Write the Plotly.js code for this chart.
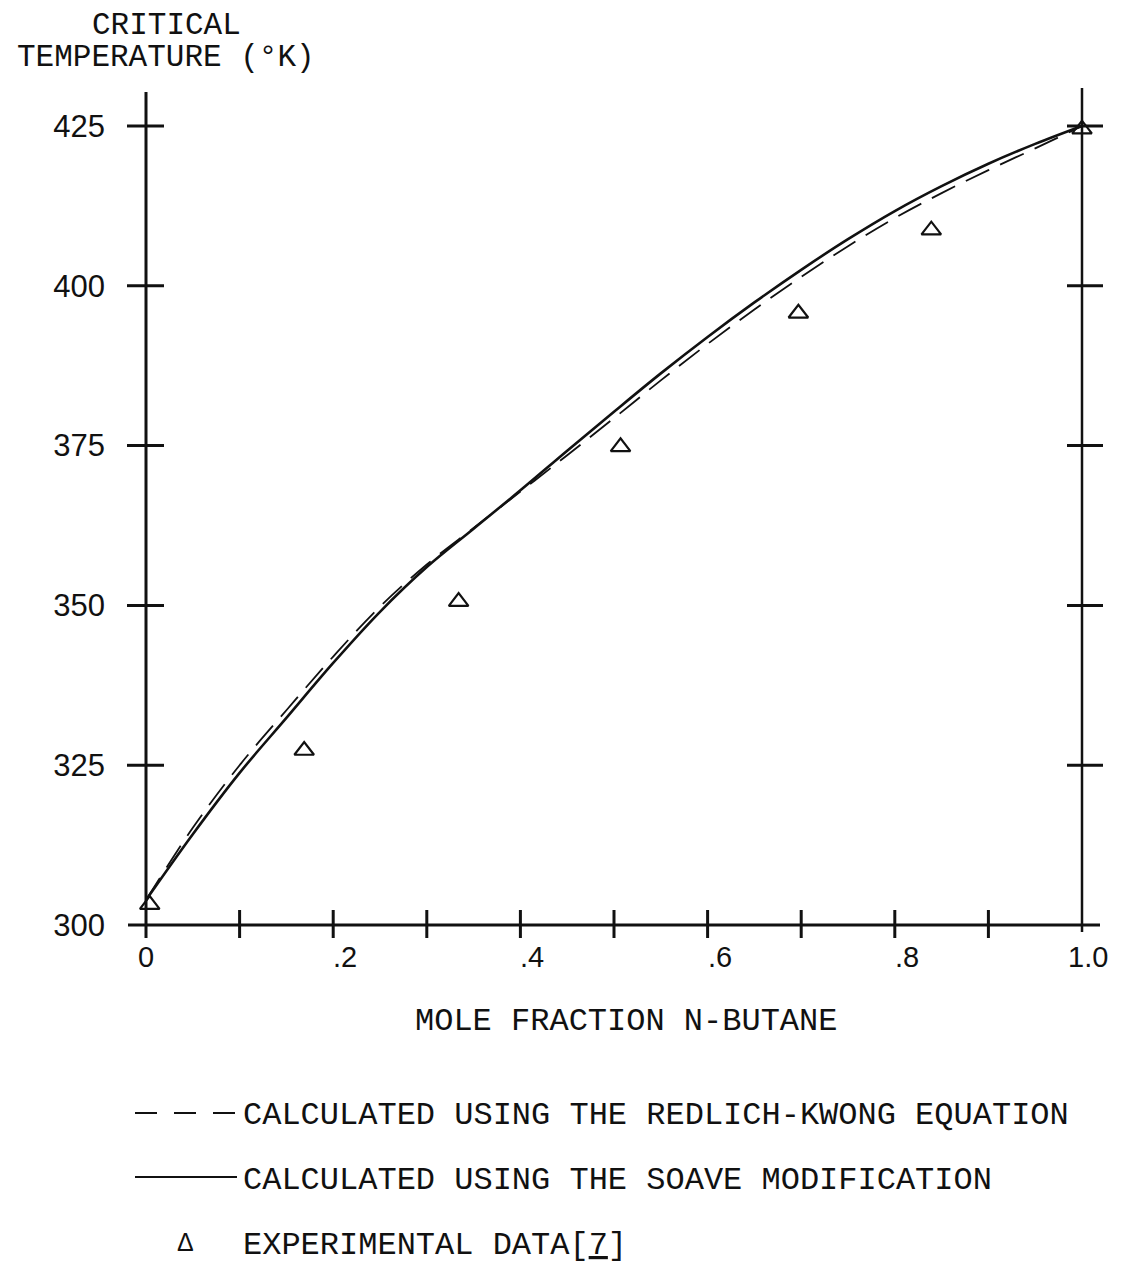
<!DOCTYPE html>
<html>
<head>
<meta charset="utf-8">
<script src="https://cdn.plot.ly/plotly-3.0.1.min.js"></script>
<style>
html,body{margin:0;padding:0;background:#fff;}
#chart{width:1128px;height:1264px;}
</style>
</head>
<body>
<div id="chart"></div>
<script>
// ---- data ----
const moleFraction = [0, 0.05, 0.1, 0.15, 0.2, 0.25, 0.3, 0.35, 0.4, 0.45, 0.5, 0.55, 0.6, 0.65, 0.7, 0.75, 0.8, 0.85, 0.9, 0.95, 1.0];
const soaveTc = [303.9, 314.2, 323.8, 332.4, 341.0, 349.0, 356.0, 362.0, 368.0, 374.2, 380.3, 386.3, 392.0, 397.4, 402.5, 407.3, 411.7, 415.6, 419.1, 422.2, 425.0];
const redlichKwongTc = [303.9, 315.2, 325.0, 333.6, 342.0, 349.8, 356.4, 362.1, 367.8, 373.5, 379.3, 385.2, 390.9, 396.3, 401.4, 406.2, 410.6, 414.5, 418.1, 421.5, 425.0];
const expX = [0.004, 0.169, 0.334, 0.507, 0.697, 0.839, 1.0];
const expTc = [303.2, 327.3, 350.6, 374.8, 395.7, 408.7, 424.5];

const yTickVals = [300, 325, 350, 375, 400, 425];
const yTickText = ["300", "325", "350", "375", "400", "425"];
const xTickVals = [0, 0.2, 0.4, 0.6, 0.8, 1.0];
const xTickText = ["0", ".2", ".4", ".6", ".8", "1.0"];
const xMinorTicks = [0.1, 0.2, 0.3, 0.4, 0.5, 0.6, 0.7, 0.8, 0.9];

const yTitleLines = ["CRITICAL", "TEMPERATURE (°K)"];
const xTitle = "MOLE FRACTION N-BUTANE";
const legendTexts = [
  "CALCULATED USING THE REDLICH-KWONG EQUATION",
  "CALCULATED USING THE SOAVE MODIFICATION",
  "EXPERIMENTAL DATA[<u>7</u>]"
];

// ---- geometry ----
const W = 1128, H = 1264;
const L = 120, R = 18, T = 80, B = 324;
const PW = W - L - R, PH = H - T - B;
const X0PX = 146, X1PX = 1082;       // pixel of x=0 and x=1
const Y300PX = 925, PXPERUNIT = 6.392; // pixel of 300 and px per degree
const xFromPx = p => (p - X0PX) / (X1PX - X0PX);
const yFromPx = p => 300 + (Y300PX - p) / PXPERUNIT;
const pxX = p => (p - L) / PW;          // paper fraction
const pxY = p => (H - B - p) / PH;

const ink = '#111';
const mono = '"Liberation Mono", "DejaVu Sans Mono", monospace';
const hand = '"Liberation Sans", Arial, sans-serif';

const shapes = [];
const line = (x0, y0, x1, y1, w, extra) => Object.assign({type: 'line', xref: 'x', yref: 'y', x0, y0, x1, y1, line: {color: ink, width: w}, layer: 'above'}, extra || {});
// axis frame
shapes.push(line(xFromPx(128), 300, xFromPx(1100), 300, 3));
shapes.push(line(0, yFromPx(938), 0, yFromPx(92), 3));
shapes.push(line(1, yFromPx(932), 1, yFromPx(88), 2.5));
// crossing ticks on the y axes
yTickVals.filter(v => v > 300).forEach(v => {
  shapes.push(line(xFromPx(127), v, xFromPx(164), v, 3));
  shapes.push(line(xFromPx(1067), v, xFromPx(1103), v, 3));
});
// ticks on the x axis
xMinorTicks.forEach(v => {
  shapes.push(line(v, yFromPx(938), v, yFromPx(910), 3));
});
// legend samples (paper coords)
shapes.push({type: 'line', xref: 'paper', yref: 'paper', x0: pxX(135), x1: pxX(237), y0: pxY(1113), y1: pxY(1113), line: {color: ink, width: 2, dash: '22px,17px'}});
shapes.push({type: 'line', xref: 'paper', yref: 'paper', x0: pxX(135), x1: pxX(237), y0: pxY(1177), y1: pxY(1177), line: {color: ink, width: 2}});

const annotations = [];
// y title
annotations.push({xref: 'paper', yref: 'paper', x: pxX(166), y: pxY(25), text: yTitleLines[0], showarrow: false, xanchor: 'center', yanchor: 'middle', font: {family: mono, size: 31, color: ink}});
annotations.push({xref: 'paper', yref: 'paper', x: pxX(166), y: pxY(57), text: yTitleLines[1], showarrow: false, xanchor: 'center', yanchor: 'middle', font: {family: mono, size: 31, color: ink}});
// x title
annotations.push({xref: 'paper', yref: 'paper', x: pxX(626), y: pxY(1021), text: xTitle, showarrow: false, xanchor: 'center', yanchor: 'middle', font: {family: mono, size: 32, color: ink}});
// x tick labels
xTickVals.forEach((v, i) => {
  const lbl = xTickText[i];
  const shift = lbl === '0' ? 0 : (lbl.charAt(0) === '.' ? 12 : 6);
  annotations.push({xref: 'x', yref: 'paper', x: v, y: pxY(957), xshift: shift, text: lbl, showarrow: false, xanchor: 'center', yanchor: 'middle', font: {family: hand, size: 29, color: ink}});
});
// legend texts
const legY = [1115, 1180, 1245];
legendTexts.forEach((t, i) => {
  annotations.push({xref: 'paper', yref: 'paper', x: pxX(241), y: pxY(legY[i]), text: t, showarrow: false, xanchor: 'left', yanchor: 'middle', font: {family: mono, size: 32, color: ink}});
});
annotations.push({xref: 'paper', yref: 'paper', x: pxX(185), y: pxY(1242), text: 'Δ', showarrow: false, xanchor: 'center', yanchor: 'middle', font: {family: hand, size: 25, color: ink}});

const traces = [
  {x: moleFraction, y: redlichKwongTc, type: 'scatter', mode: 'lines', line: {color: ink, width: 1.8, dash: '26px,12px', shape: 'spline'}, name: 'Redlich-Kwong'},
  {x: moleFraction, y: soaveTc, type: 'scatter', mode: 'lines', line: {color: ink, width: 2.6, shape: 'spline'}, name: 'Soave'},
  {x: expX, y: expTc, type: 'scatter', mode: 'markers', marker: {symbol: 'triangle-up-open', size: 17, color: ink, line: {width: 2.2, color: ink}}, name: 'Experimental'}
];

const layout = {
  width: W, height: H,
  margin: {l: L, r: R, t: T, b: B},
  paper_bgcolor: '#fff', plot_bgcolor: '#fff',
  showlegend: false,
  hovermode: false,
  xaxis: {range: [xFromPx(L), xFromPx(W - R)], showgrid: false, zeroline: false, showline: false, ticks: '', showticklabels: false, fixedrange: true},
  yaxis: {range: [yFromPx(H - B), yFromPx(T)], showgrid: false, zeroline: false, showline: false, ticks: '',
          tickmode: 'array', tickvals: yTickVals, ticktext: yTickText, ticklabelstandoff: 14,
          tickfont: {family: hand, size: 31, color: ink}, fixedrange: true},
  shapes, annotations
};

Plotly.newPlot('chart', traces, layout, {displayModeBar: false, staticPlot: true});
</script>
</body>
</html>
